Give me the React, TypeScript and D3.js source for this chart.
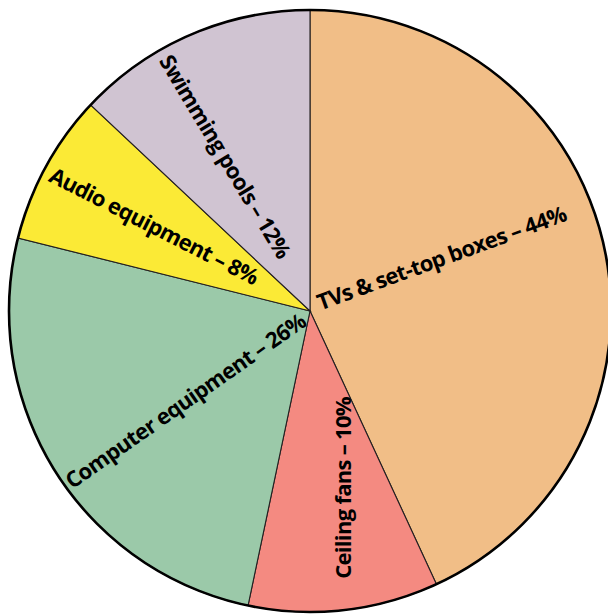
import React from "react";
import * as d3 from "d3";

const categories = ["TVs & set-top boxes", "Ceiling fans", "Computer equipment", "Audio equipment", "Swimming pools"];
const sliceShares = [43.1, 10.2, 25.6, 8.1, 13.0];
const labelPercents = [44, 10, 26, 8, 12];
const colors = ["#F1BE87", "#F48A81", "#9BC9A9", "#FBEA36", "#D0C4D2"];

// label layout: rotation (deg), anchor, x along rotated axis, baseline offset
const labelRotation = [-20, -90, -35, 27, 59];
const labelAnchor = ["start", "end", "end", "end", "end"];
const labelAlong = [10, -86, -10, -62, -60];
const labelAcross = [3, 41, 10, 3, 1];

const W = 608;
const H = 614;
const cx = 310;
const cy = 311;
const R = 301;

export default function App() {
  const pie = d3.pie<number>().sort(null).startAngle(0).endAngle(2 * Math.PI);
  const arcs = pie(sliceShares);
  const arc = d3.arc<d3.PieArcDatum<number>>().innerRadius(0).outerRadius(R);

  return (
    <svg
      width={W}
      height={H}
      style={{ position: "absolute", left: 0, top: 0 }}
      fontFamily="'Open Sans', sans-serif"
    >
      <rect width={W} height={H} fill="#fff" />
      <g transform={`translate(${cx},${cy})`}>
        {arcs.map((a, i) => (
          <path key={i} d={arc(a) ?? ""} fill={colors[i]} stroke="#231f20" strokeWidth={1.1} />
        ))}
        <circle r={R} fill="none" stroke="#000" strokeWidth={2.6} />
        {categories.map((c, i) => (
          <text
            key={c}
            transform={`rotate(${labelRotation[i]})`}
            x={labelAlong[i]}
            y={labelAcross[i]}
            textAnchor={labelAnchor[i]}
            fontSize={22}
            letterSpacing={-0.7}
            fontWeight={700}
            fill="#000"
          >
            {`${c} – ${labelPercents[i]}%`}
          </text>
        ))}
      </g>
    </svg>
  );
}
